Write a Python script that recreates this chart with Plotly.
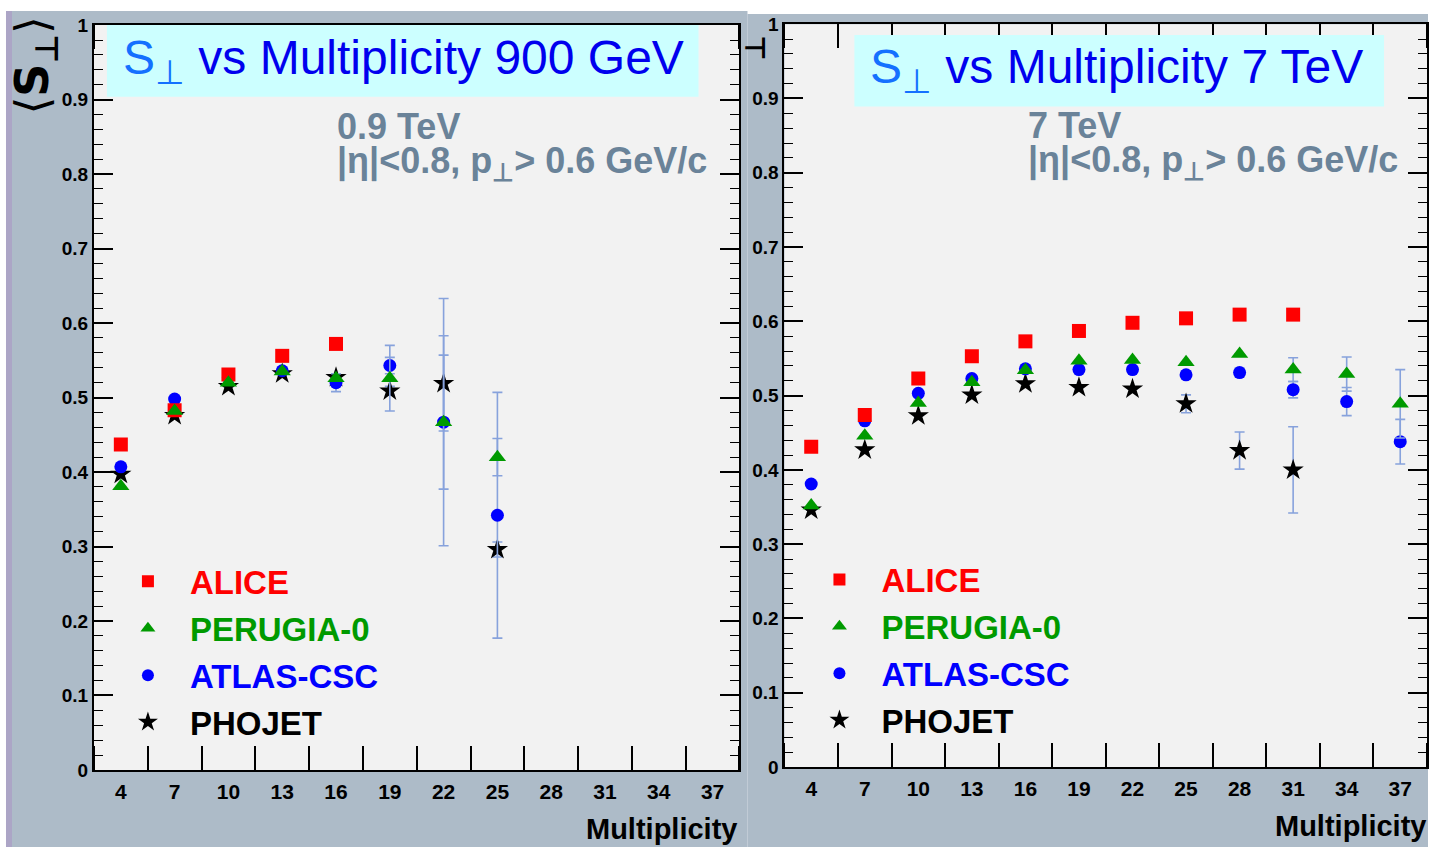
import plotly.graph_objects as go

W, H = 1429, 860
FONT = "Liberation Sans"

# Multiplicity bins (bin centres) and tick labels
mult = [4, 7, 10, 13, 16, 19, 22, 25, 28, 31, 34, 37]
mult_labels = [str(m) for m in mult]

# ---- 900 GeV ----
alice_900 = [0.437, 0.483, 0.531, 0.556, 0.572]
perugia_900 = [0.381, 0.482, 0.520, 0.535, 0.526, 0.526, 0.467, 0.420]
perugia_900_err = [0, 0, 0, 0, 0, 0.044, 0.090, 0.025]
atlas_900 = [0.407, 0.498, 0.527, 0.536, 0.520, 0.543, 0.467, 0.342]
atlas_900_err = [0.004, 0.004, 0.004, 0.004, 0.012, 0.011, 0.166, 0.165]
phojet_900 = [0.397, 0.476, 0.515, 0.532, 0.527, 0.509, 0.519, 0.296]
phojet_900_err = [0, 0, 0, 0, 0, 0.006, 0.064, 0.010]

# ---- 7 TeV ----
alice_7 = [0.431, 0.474, 0.523, 0.553, 0.573, 0.587, 0.598, 0.604, 0.609, 0.609]
perugia_7 = [0.352, 0.446, 0.490, 0.518, 0.534, 0.547, 0.548, 0.545, 0.556, 0.535, 0.529, 0.489]
perugia_7_err = [0, 0, 0, 0, 0, 0, 0, 0, 0, 0.016, 0.023, 0.046]
atlas_7 = [0.381, 0.466, 0.503, 0.523, 0.536, 0.535, 0.535, 0.528, 0.531, 0.508, 0.492, 0.438]
atlas_7_err = [0.003, 0.003, 0.003, 0.003, 0.003, 0.003, 0.004, 0.005, 0.006, 0.011, 0.019, 0.030]
phojet_7 = [0.346, 0.427, 0.473, 0.501, 0.516, 0.511, 0.509, 0.489, 0.426, 0.400]
phojet_7_err = [0, 0, 0, 0, 0, 0, 0, 0.012, 0.025, 0.058]

series_names = ["ALICE", "PERUGIA-0", "ATLAS-CSC", "PHOJET"]
series_colors = {"ALICE": "#ff0000", "PERUGIA-0": "#009a00",
                 "ATLAS-CSC": "#0000ff", "PHOJET": "#000000"}
series_symbols = {"ALICE": "square", "PERUGIA-0": "triangle-up",
                  "ATLAS-CSC": "circle", "PHOJET": "star"}
series_sizes = {"ALICE": 14, "PERUGIA-0": 15, "ATLAS-CSC": 13, "PHOJET": 16}
legend_sizes = {"ALICE": 12, "PERUGIA-0": 13, "ATLAS-CSC": 12, "PHOJET": 15}

ERR_COLOR = "#87a2dc"
FRAME = "#adbbc8"
PLOT_BG = "#f2f2f2"
SUB_COLOR = "#6a8399"


def px(x):
    return x / W


def py(y):
    return 1 - y / H


fig = go.Figure()

panels = [
    dict(xa="x", ya="y", legend="legend",
         data={"PHOJET": (phojet_900, phojet_900_err),
               "ATLAS-CSC": (atlas_900, atlas_900_err),
               "ALICE": (alice_900, None),
               "PERUGIA-0": (perugia_900, perugia_900_err)}),
    dict(xa="x2", ya="y2", legend="legend2",
         data={"PHOJET": (phojet_7, phojet_7_err),
               "ATLAS-CSC": (atlas_7, atlas_7_err),
               "ALICE": (alice_7, None),
               "PERUGIA-0": (perugia_7, perugia_7_err)}),
]

for p in panels:
    for name, (vals, errs) in p["data"].items():
        err = None
        if errs is not None:
            err = dict(type="data", array=errs, visible=True, color=ERR_COLOR,
                       thickness=1.6, width=5)
        fig.add_trace(go.Scatter(
            x=mult[:len(vals)], y=vals, mode="markers",
            xaxis=p["xa"], yaxis=p["ya"], showlegend=False,
            marker=dict(symbol=series_symbols[name], size=series_sizes[name],
                        color=series_colors[name], line=dict(width=0)),
            error_y=err, hoverinfo="x+y", name=name))
    # legend entries
    for name in series_names:
        fig.add_trace(go.Scatter(
            x=[None], y=[None], mode="markers", xaxis=p["xa"], yaxis=p["ya"],
            legend=p["legend"], legendgroup=p["legend"] + name,
            name='<span style="color:%s">%s</span>' % (series_colors[name], name),
            marker=dict(symbol=series_symbols[name], size=legend_sizes[name],
                        color=series_colors[name], line=dict(width=0))))


def xaxis_cfg(domain, anchor):
    return dict(domain=domain, anchor=anchor, range=[2.5, 38.5],
                tickmode="array", tickvals=mult, ticktext=mult_labels,
                ticks="", showline=True, linecolor="black", linewidth=2,
                mirror="allticks", showgrid=False, zeroline=False,
                tickfont=dict(family=FONT, size=21, color="black", weight="bold"),
                ticklabelstandoff=2,
                minor=dict(tickmode="linear", tick0=2.5, dtick=3, ticks="inside",
                           ticklen=24, tickwidth=1.5, tickcolor="black",
                           showgrid=False))


def yaxis_cfg(domain, anchor):
    return dict(domain=domain, anchor=anchor, range=[0, 1],
                tickmode="linear", tick0=0, dtick=0.1, ticks="inside",
                ticklen=19, tickwidth=1.5, tickcolor="black",
                showline=True, linecolor="black", linewidth=2,
                mirror="allticks", showgrid=False, zeroline=False,
                tickfont=dict(family=FONT, size=19, color="black", weight="bold"),
                minor=dict(tickmode="linear", tick0=0, dtick=0.02, ticks="inside",
                           ticklen=9, tickwidth=1.3, tickcolor="black",
                           showgrid=False))


L_X = [px(94), px(740)]
L_Y = [py(779), py(15.5)]
R_X = [px(785), px(1428)]
R_Y = [py(776), py(14.5)]

shapes = [
    # panel frames
    dict(type="rect", xref="paper", yref="paper", x0=px(6), x1=px(748),
         y0=0, y1=py(1), fillcolor=FRAME, line=dict(width=0), layer="below"),
    dict(type="rect", xref="paper", yref="paper", x0=px(6), x1=px(12),
         y0=0, y1=py(1), fillcolor="#aca5c6", line=dict(width=0), layer="below"),
    dict(type="rect", xref="paper", yref="paper", x0=px(748), x1=1,
         y0=0, y1=py(4), fillcolor=FRAME, line=dict(width=0), layer="below"),
    # plot areas
    dict(type="rect", xref="x domain", yref="y domain", x0=0, x1=1, y0=0, y1=1,
         fillcolor=PLOT_BG, line=dict(width=0), layer="below"),
    dict(type="rect", xref="x2 domain", yref="y2 domain", x0=0, x1=1, y0=0, y1=1,
         fillcolor=PLOT_BG, line=dict(width=0), layer="below"),
    # title boxes
    dict(type="rect", xref="paper", yref="paper", x0=px(107), x1=px(699),
         y0=py(89), y1=py(15.5), fillcolor="#ccffff", line=dict(width=0), layer="above"),
    dict(type="rect", xref="paper", yref="paper", x0=px(855), x1=px(1385),
         y0=py(99), y1=py(25.5), fillcolor="#ccffff", line=dict(width=0), layer="above"),
]

TITLE_S = '<span style="color:#1470ff">S<sub>⊥</sub></span>'
annotations = [
    dict(text=TITLE_S + " vs Multiplicity 900 GeV", x=px(404), y=py(52),
         font=dict(family=FONT, size=48, color="#0000ee")),
    dict(text=TITLE_S + " vs Multiplicity 7 TeV", x=px(1117), y=py(61),
         font=dict(family=FONT, size=48, color="#0000ee")),
    dict(text="0.9 TeV", x=px(335), y=py(119), xanchor="left",
         font=dict(family=FONT, size=36, color=SUB_COLOR, weight="bold")),
    dict(text="|η|<0.8, p<sub>⊥</sub>> 0.6 GeV/c", x=px(335), y=py(157), xanchor="left",
         font=dict(family=FONT, size=36, color=SUB_COLOR, weight="bold")),
    dict(text="7 TeV", x=px(1027), y=py(118), xanchor="left",
         font=dict(family=FONT, size=36, color=SUB_COLOR, weight="bold")),
    dict(text="|η|<0.8, p<sub>⊥</sub>> 0.6 GeV/c", x=px(1027), y=py(156), xanchor="left",
         font=dict(family=FONT, size=36, color=SUB_COLOR, weight="bold")),
    dict(text="Multiplicity", x=px(740), y=py(839), xanchor="right",
         font=dict(family=FONT, size=29, color="black", weight="bold")),
    dict(text="Multiplicity", x=px(1429), y=py(836), xanchor="right",
         font=dict(family=FONT, size=29, color="black", weight="bold")),
    dict(text="⟨<b>S<sub>⊥</sub></b>⟩", x=px(36), y=py(57), textangle=-90,
         font=dict(family="DejaVu Sans", size=46, color="black")),
    dict(text="<b>⊥</b>", x=px(756), y=py(38), textangle=-90,
         font=dict(family="DejaVu Sans", size=28, color="black")),
]
for a in annotations:
    a.update(xref="paper", yref="paper", showarrow=False)
    a.setdefault("xanchor", "center")
    a.setdefault("yanchor", "middle")

legend_font = dict(family=FONT, size=33, color="black", weight="bold")

fig.update_layout(
    width=W, height=H, margin=dict(l=0, r=0, t=0, b=0),
    paper_bgcolor="white", plot_bgcolor="rgba(0,0,0,0)",
    xaxis=xaxis_cfg(L_X, "y"), yaxis=yaxis_cfg(L_Y, "x"),
    xaxis2=xaxis_cfg(R_X, "y2"), yaxis2=yaxis_cfg(R_Y, "x2"),
    shapes=shapes, annotations=annotations,
    legend=dict(x=px(106), y=py(557), xanchor="left", yanchor="top",
                bgcolor="rgba(0,0,0,0)", font=legend_font, tracegroupgap=1,
                itemwidth=74, traceorder="grouped"),
    legend2=dict(x=px(798), y=py(555), xanchor="left", yanchor="top",
                 bgcolor="rgba(0,0,0,0)", font=legend_font, tracegroupgap=1,
                 itemwidth=74, traceorder="grouped"),
    showlegend=True,
)

fig.write_html("out.html")
